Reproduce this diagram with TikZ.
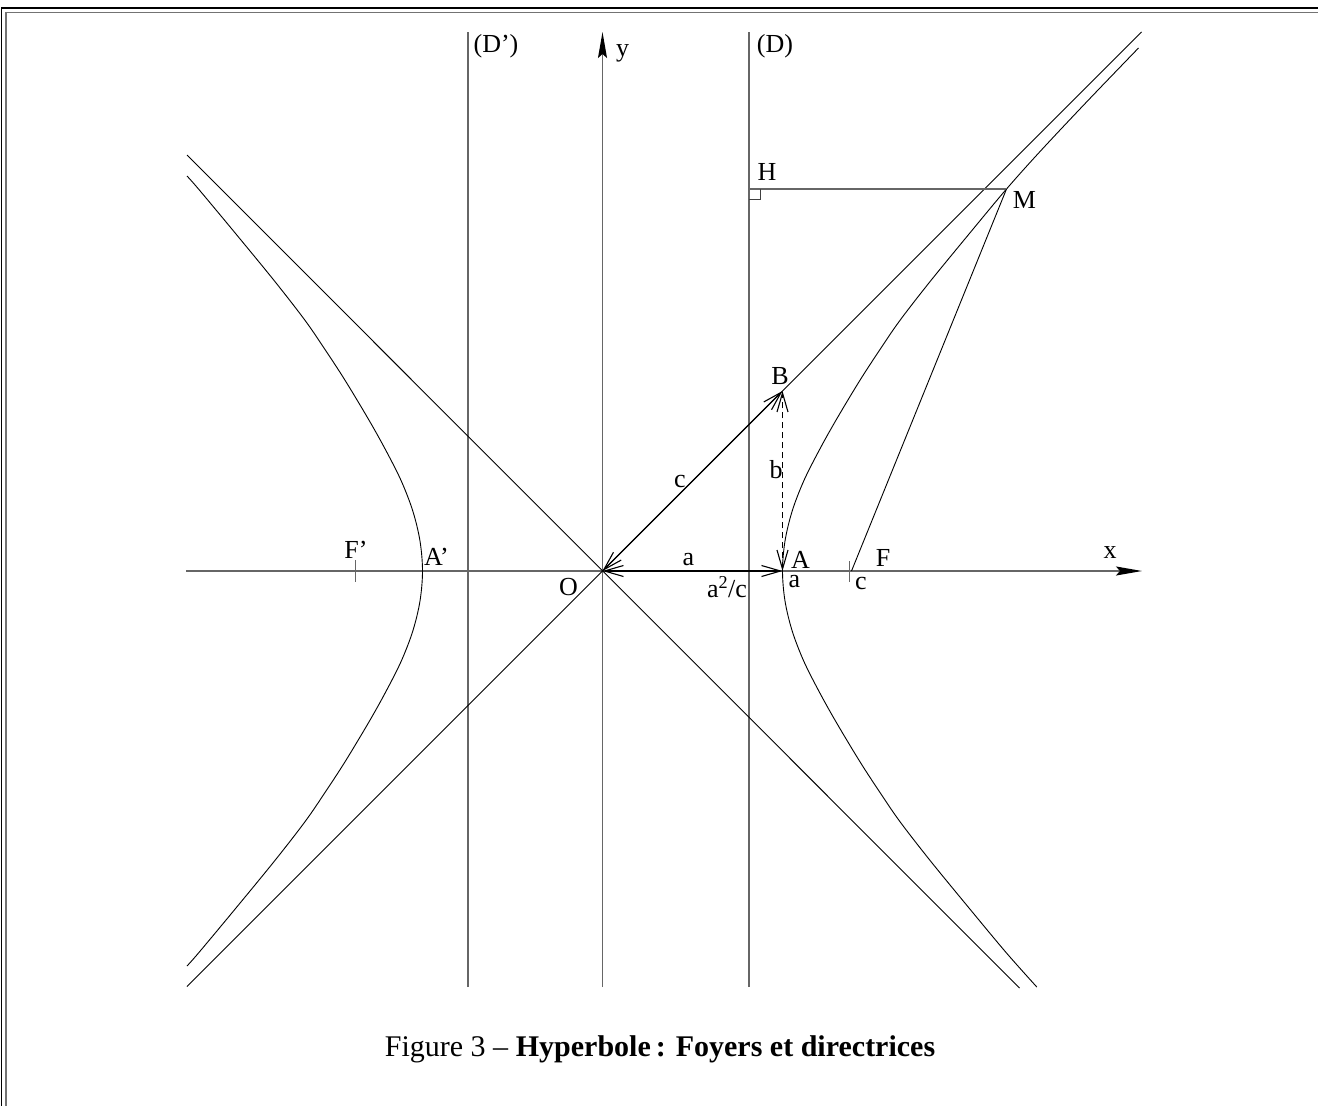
\documentclass[tikz,border=0pt]{standalone}
\usepackage{fontspec}
\setmainfont{Liberation Serif}
\usetikzlibrary{arrows.meta}
\begin{document}
\begin{tikzpicture}[x=1pt,y=-1pt,
  lbl/.style={inner sep=0pt, anchor=center, font=\fontsize{26}{30}\selectfont},
  axisline/.style={black!60, line width=1.5pt},
  curveline/.style={black, line width=0.9pt},
  tickline/.style={black!60, line width=1.5pt},
  vecline/.style={black, line width=1.1pt, {Straight Barb[length=19pt,width=11pt]}-{Straight Barb[length=19pt,width=11pt]}},
  axtip/.style={-{Stealth[length=26pt,width=9pt,inset=4pt,black]}}
]
\useasboundingbox (0,0) rectangle (1318,1106);
% frame
\draw[black, line width=1.8pt] (1.5,1106) -- (1.5,8.3) -- (1318,8.3);
\draw[black!55, line width=1.6pt] (5.8,1106) -- (5.8,12.6) -- (1318,12.6);

% points
\coordinate (O) at (602.5,571);
\coordinate (A) at (782.5,571);
\coordinate (B) at (782.5,391);
\coordinate (F) at (851.5,571);
\coordinate (Ft) at (849.5,561);
\coordinate (Fpt) at (355.7,560);
\coordinate (M) at (1006.5,189);
\coordinate (H) at (749,189);
\coordinate (xL) at (186,571);
\coordinate (xR) at (1142,571);
\coordinate (yB) at (602.5,987);
\coordinate (yT) at (602.5,32);
\coordinate (DT) at (749,32);
\coordinate (DB) at (749,987);
\coordinate (DpT) at (468,32);
\coordinate (DpB) at (468,987);
\coordinate (as1) at (187,986.5);
\coordinate (as2) at (1141.5,32);
\coordinate (as3) at (187,155);
\coordinate (as4) at (1019.5,988);

% axes and directrices
\draw[axisline, axtip] (xL) -- (xR);
\draw[axisline, axtip] (yB) -- (yT);
\draw[axisline] (DpB) -- (DpT);
\draw[axisline] (DB) -- (DT);

% asymptotes
\draw[curveline] (as1) -- (as2);
\draw[curveline] (as3) -- (as4);

% hyperbola, right branch
\draw[curveline] plot[smooth, tension=0.55] coordinates {
 (1036.8,987) (1006.5,953) (971.5,911) (930.5,861) (899.5,821) (879,791)
 (859.5,761) (835.5,721) (818.8,691) (803.7,661) (792.2,631) (785,601)
 (782.5,571)
 (785,541) (792.2,511) (803.7,481) (818.8,451) (835.5,421) (859.5,381)
 (879,351) (899.5,321) (930.5,281) (971.5,231) (1006.5,189) (1040.5,151)
 (1087.5,101) (1138.5,48)};
% hyperbola, left branch
\draw[curveline] plot[smooth, tension=0.55] coordinates {
 (187,966) (198.5,953) (233.5,911) (274.5,861) (305.5,821) (326,791)
 (345.5,761) (369.5,721) (386.2,691) (401.3,661) (412.8,631) (420,601)
 (422.5,571)
 (420,541) (412.8,511) (401.3,481) (386.2,451) (369.5,421) (345.5,381)
 (326,351) (305.5,321) (274.5,281) (233.5,231) (198.5,189) (187,176)};

% H M construction
\draw[axisline] (H) -- (M);
\draw[black!75, line width=1pt] (H) ++(0,10) -- ++(11,0) -- ++(0,-10);
\draw[curveline] (M) -- (F);

% ticks
\draw[tickline] (Ft) -- ++(0,21);
\draw[tickline] (Fpt) -- ++(0,22);

% vectors
\draw[vecline] (O) -- (A);
\draw[vecline] (O) -- (B);
\draw[vecline, dash pattern=on 6pt off 4pt] (A) -- (B);

% labels
\node[lbl] (lDp) at (496,46) {(D')};
\node[lbl] (ly) at (622.5,53) {y};
\node[lbl] (lD) at (775,46) {(D)};
\node[lbl] (lH) at (767,172) {H};
\node[lbl] (lM) at (1024.5,199.5) {M};
\node[lbl] (lB) at (780,376) {B};
\node[lbl] (lc) at (680,481.5) {c};
\node[lbl] (lb) at (776,470) {b};
\node[lbl] (la) at (688.5,559.5) {a};
\node[lbl] (lA) at (800.5,560) {A};
\node[lbl] (lF) at (883,557.5) {F};
\node[lbl] (lx) at (1110,553) {x};
\node[lbl] (lO) at (568.5,587.5) {O};
\node[lbl] (la2c) at (727,587.5) {a\textsuperscript{2}/c};
\node[lbl] (laA) at (794.5,581.5) {a};
\node[lbl] (lcF) at (861,583) {c};
\node[lbl] (lFp) at (356,550) {F'};
\node[lbl] (lAp) at (436.5,557) {A'};

% caption
\node[inner sep=0pt, anchor=base, font=\fontsize{30}{36}\selectfont] (cap) at (660,1056)
  {Figure 3 – \textbf{Hyperbole\,: Foyers et directrices}};
\end{tikzpicture}
\end{document}
